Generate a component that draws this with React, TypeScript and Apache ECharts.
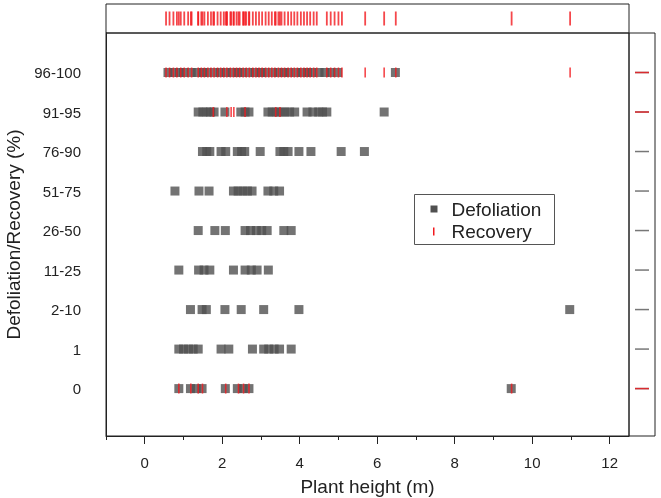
import React, { useEffect, useRef } from "react";
import * as echarts from "echarts";

const categories = ["0", "1", "2-10", "11-25", "26-50", "51-75", "76-90", "91-95", "96-100"];
const xTickLabels = [0, 2, 4, 6, 8, 10, 12];
const xMinorTicks = [-1, 1, 3, 5, 7, 9, 11];

// Defoliation: plant heights (m) per defoliation class
const defol_0 = [0.88, 1.18, 1.33, 1.48, 2.08, 2.39, 2.54, 2.69, 9.46];
const defol_1 = [0.88, 1.0, 1.13, 1.25, 1.38, 1.97, 2.17, 2.78, 3.07, 3.2, 3.34, 3.48, 3.78];
const defol_2_10 = [1.18, 1.48, 1.59, 2.07, 2.49, 3.07, 3.98, 10.97];
const defol_11_25 = [0.88, 1.39, 1.53, 1.68, 2.29, 2.59, 2.75, 2.9, 3.19];
const defol_26_50 = [1.38, 1.81, 2.08, 2.59, 2.73, 2.88, 3.02, 3.16, 3.59, 3.78];
const defol_51_75 = [0.78, 1.4, 1.66, 2.29, 2.41, 2.53, 2.65, 2.77, 3.18, 3.33, 3.48];
const defol_76_90 = [1.49, 1.6, 1.68, 1.97, 2.09, 2.39, 2.5, 2.58, 2.98, 3.49, 3.59, 3.7, 3.98, 4.29, 5.07, 5.67];
const defol_91_95 = [1.38, 1.5, 1.6, 1.7, 1.79, 2.07, 2.48, 2.59, 2.69, 3.18, 3.29, 3.4, 3.51, 3.62, 3.74, 3.87, 4.19, 4.34, 4.49, 4.59, 4.7, 6.18];
const defol_96_100 = [0.6, 0.75, 0.9, 1.0, 1.2, 1.35, 1.5, 1.6, 1.8, 1.95, 2.1, 2.25, 2.4, 2.5, 2.7, 2.85, 3.0, 3.1, 3.3, 3.45, 3.6, 3.7, 3.9, 4.05, 4.2, 4.3, 4.5, 4.65, 4.8, 4.98, 6.47];

// Recovery: plant heights (m) per class
const rec_0 = [0.88, 1.19, 1.38, 1.49, 2.09, 2.42, 2.55, 2.69, 9.47];
const rec_91_95 = [1.77, 2.12, 2.23, 2.3, 2.59, 3.38, 3.49];
const rec_96_100 = [
  0.55, 0.64, 0.74, 0.83, 0.93, 1.02, 1.12, 1.21,
  1.38, 1.46, 1.54, 1.63, 1.71, 1.79, 1.88, 1.96, 2.04, 2.12, 2.21, 2.29, 2.37, 2.45, 2.54, 2.62, 2.7, 2.79, 2.87,
  2.95, 3.03, 3.12, 3.2, 3.28, 3.36, 3.45, 3.53, 3.61, 3.7, 3.78, 3.86, 3.94, 4.03, 4.11, 4.19, 4.27, 4.36, 4.44,
  4.7, 4.8, 4.9, 5.0, 5.09,
  5.69, 6.18, 6.48, 10.98,
];

const defolRows = [defol_0, defol_1, defol_2_10, defol_11_25, defol_26_50, defol_51_75, defol_76_90, defol_91_95, defol_96_100];
const recRows: number[][] = [rec_0, [], [], [], [], [], [], rec_91_95, rec_96_100];

const FONT = "Liberation Sans, Arial, sans-serif";
const GRAY = "#505050";
const RED = "#f2191e";
const INK = "#222222";

export default function App() {
  const ref = useRef<HTMLDivElement>(null);
  useEffect(() => {
    if (!ref.current) return;
    const chart = echarts.init(ref.current, undefined, { renderer: "svg" });

    const defolData: number[][] = [];
    defolRows.forEach((row, i) => row.forEach((x) => defolData.push([x, i])));
    const recData: number[][] = [];
    recRows.forEach((row, i) => row.forEach((x) => recData.push([x, i])));
    const topRug = recData.map((d) => [d[0], 0.5]);
    const rightGray = defolRows.map((r, i) => [0.5, i]);
    const rightRed = recRows.map((r, i) => (r.length ? [0.5, i] : null)).filter((d) => d) as number[][];

    const YMIN = -1.2;
    const YMAX = 9;
    const L = 106, T = 33, W = 523, H = 403;

    chart.setOption({
      animation: false,
      textStyle: { fontFamily: FONT },
      grid: [
        { left: L, top: T, width: W, height: H, show: true, borderColor: INK, borderWidth: 1, outerBoundsMode: "none", containLabel: false },
        { left: L, top: 4, width: W, height: T - 4, show: true, borderColor: INK, borderWidth: 1, outerBoundsMode: "none", containLabel: false },
        { left: L + W, top: T, width: 26, height: H, show: true, borderColor: INK, borderWidth: 1, outerBoundsMode: "none", containLabel: false },
      ],
      xAxis: [
        {
          gridIndex: 0, type: "value", min: -1, max: 12.5, interval: 1, position: "bottom",
          name: "Plant height (m)", nameLocation: "middle", nameGap: 41,
          nameTextStyle: { fontSize: 19, color: INK, fontFamily: FONT },
          axisLine: { show: true, onZero: false, lineStyle: { color: INK, width: 1 } },
          axisTick: { show: true, length: 8, customValues: xTickLabels, lineStyle: { color: INK } },
          axisLabel: { show: true, customValues: xTickLabels, fontSize: 15, color: INK, margin: 19, fontFamily: FONT },
          splitLine: { show: false },
        },
        {
          gridIndex: 0, type: "value", min: -1, max: 12.5, interval: 1, position: "bottom",
          axisLine: { show: false, onZero: false },
          axisTick: { show: true, length: 4, customValues: xMinorTicks, lineStyle: { color: INK } },
          axisLabel: { show: false },
          splitLine: { show: false },
        },
        { gridIndex: 1, type: "value", min: -1, max: 12.5, show: false },
        { gridIndex: 2, type: "value", min: 0, max: 1, show: false },
      ],
      yAxis: [
        {
          gridIndex: 0, type: "value", min: YMIN, max: YMAX, position: "left",
          name: "Defoliation/Recovery (%)", nameLocation: "middle", nameGap: 71,
          nameTextStyle: { fontSize: 19, color: INK, fontFamily: FONT },
          axisLine: { show: true, onZero: false, lineStyle: { color: INK } },
          axisTick: { show: false },
          axisLabel: {
            show: true, customValues: [0, 1, 2, 3, 4, 5, 6, 7, 8], fontSize: 15, color: INK, margin: 25, fontFamily: FONT,
            formatter: (v: number) => categories[Math.round(v)] ?? "",
          },
          splitLine: { show: false },
        },
        { gridIndex: 1, type: "value", min: 0, max: 1, show: false },
        { gridIndex: 2, type: "value", min: YMIN, max: YMAX, show: false },
      ],
      series: [
        {
          name: "Defoliation", type: "scatter", xAxisIndex: 0, yAxisIndex: 0,
          symbol: "rect", symbolSize: [9, 9], itemStyle: { color: GRAY }, data: defolData, silent: true,
        },
        {
          name: "Recovery", type: "scatter", xAxisIndex: 0, yAxisIndex: 0,
          symbol: "rect", symbolSize: [1.6, 10], itemStyle: { color: RED }, data: recData, silent: true,
        },
        {
          name: "RecoveryRugTop", type: "scatter", xAxisIndex: 2, yAxisIndex: 1,
          symbol: "rect", symbolSize: [1.8, 14], itemStyle: { color: RED }, data: topRug, silent: true,
        },
        {
          name: "DefolRugRight", type: "scatter", xAxisIndex: 3, yAxisIndex: 2,
          symbol: "rect", symbolSize: [14, 1.5], itemStyle: { color: "#555" }, data: rightGray, silent: true,
        },
        {
          name: "RecRugRight", type: "scatter", xAxisIndex: 3, yAxisIndex: 2,
          symbol: "rect", symbolSize: [14, 1.5], itemStyle: { color: RED }, data: rightRed, silent: true,
        },
      ],
      graphic: [
        {
          type: "group", left: 414, top: 194,
          children: [
            { type: "rect", shape: { x: 0, y: 0, width: 140, height: 50 }, style: { fill: "#fff", stroke: "#555", lineWidth: 1 } },
            { type: "rect", shape: { x: 16, y: 11, width: 7, height: 7 }, style: { fill: GRAY } },
            { type: "text", x: 37, y: 15, style: { text: "Defoliation", fontSize: 19, fill: INK, fontFamily: FONT, verticalAlign: "middle" } },
            { type: "rect", shape: { x: 18.5, y: 33, width: 1.5, height: 8 }, style: { fill: RED } },
            { type: "text", x: 37, y: 37, style: { text: "Recovery", fontSize: 19, fill: INK, fontFamily: FONT, verticalAlign: "middle" } },
          ],
        },
      ],
    });
    return () => chart.dispose();
  }, []);
  return <div ref={ref} style={{ position: "fixed", left: 0, top: 0, width: 661, height: 498 }} />;
}
